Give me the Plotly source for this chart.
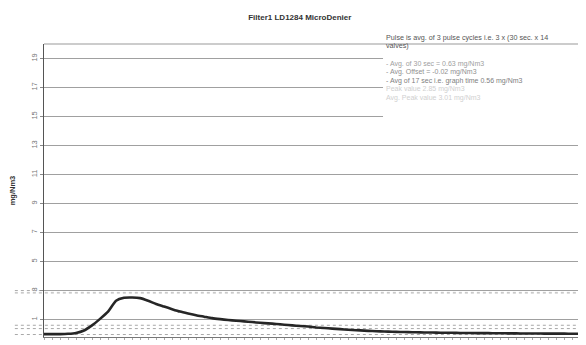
import plotly.graph_objects as go

# ---- data ----
seconds = list(range(70))
conc = [0.0, 0.0, 0.0, 0.02, 0.08, 0.25, 0.6, 1.05, 1.55, 2.3,
        2.5, 2.52, 2.48, 2.3, 2.08, 1.9, 1.72, 1.55, 1.42, 1.3,
        1.2, 1.1, 1.03, 0.97, 0.92, 0.88, 0.83, 0.78, 0.74, 0.7,
        0.65, 0.6, 0.56, 0.52, 0.46, 0.42, 0.38, 0.34, 0.3, 0.27,
        0.24, 0.21, 0.19, 0.17, 0.15, 0.14, 0.13, 0.12, 0.11, 0.10,
        0.09, 0.09, 0.08, 0.08, 0.07, 0.07, 0.06, 0.06, 0.05, 0.05,
        0.04, 0.04, 0.04, 0.03, 0.03, 0.03, 0.02, 0.02, 0.02, 0.02]
ref_levels = [3.0, 2.84, 0.61, 0.38, -0.03]
y_ticks = [1, 3, 5, 7, 9, 11, 13, 15, 17, 19]
title = "Filter1 LD1284 MicroDenier"
y_title = "mg/Nm3"
note_head = ["Pulse is avg. of 3 pulse cycles i.e. 3 x (30 sec. x 14", "valves)"]
note_lines = ["- Avg. of 30 sec = 0.63 mg/Nm3",
              "- Avg. Offset = -0.02 mg/Nm3",
              "- Avg of 17 sec i.e. graph time 0.56 mg/Nm3",
              "Peak value 2.85 mg/Nm3",
              "Avg. Peak value 3.01 mg/Nm3"]
note_colors = ["#a0a0a0", "#909090", "#808080", "#d0d0d0", "#d0d0d0"]

FONT = "Liberation Sans, Arial, sans-serif"

fig = go.Figure()
fig.add_trace(go.Scatter(x=seconds, y=conc, mode="lines",
                         line=dict(color="#262626", width=2.6, shape="spline", smoothing=0.6),
                         showlegend=False, hoverinfo="skip"))

for lv in ref_levels:
    fig.add_shape(type="line", xref="paper", yref="y", x0=-0.053, x1=1, y0=lv, y1=lv,
                  line=dict(color="#a8a8a8", width=1, dash="dot"), layer="below")

# white note box
fig.add_shape(type="rect", xref="paper", yref="paper", x0=0.6164, x1=0.9709, y0=0.724, y1=1.044,
              fillcolor="white", line=dict(width=0), layer="above")

head_y = [1.0238, 0.9932]
item_y = [0.9318, 0.9029, 0.8739, 0.8449, 0.8160]
for t, yy in zip(note_head, head_y):
    fig.add_annotation(xref="paper", yref="paper", x=0.620, y=yy, xanchor="left", yanchor="middle",
                       text=t, showarrow=False, borderpad=0,
                       font=dict(family=FONT, size=7.2, color="#555"))
for t, c, yy in zip(note_lines, note_colors, item_y):
    fig.add_annotation(xref="paper", yref="paper", x=0.620, y=yy, xanchor="left", yanchor="middle",
                       text=t, showarrow=False, borderpad=0,
                       font=dict(family=FONT, size=7, color=c))

fig.update_layout(
    width=586, height=345,
    margin=dict(l=36, r=0, t=36, b=16, autoexpand=False),
    paper_bgcolor="white", plot_bgcolor="white",
    title=dict(text=f"<b>{title}</b>", x=0.498, xanchor="center", y=0.972, yanchor="middle",
               font=dict(family=FONT, size=8, color="#333")),
    font=dict(family=FONT, size=7, color="#666"),
    xaxis=dict(range=[0, 68.7], showgrid=False, zeroline=False, showline=True,
               linecolor="#777", linewidth=1, ticks="outside", ticklen=2, tickcolor="#aaa",
               dtick=1, showticklabels=False, automargin=False),
    yaxis=dict(range=[-0.2, 20], tickvals=y_ticks, tickangle=-90, showgrid=True,
               gridcolor="#a0a0a0", gridwidth=1, zeroline=False, showline=True,
               linecolor="#555", linewidth=1, mirror=False, ticks="outside", ticklen=3,
               tickcolor="#888", tickfont=dict(size=7.5, color="#777"), automargin=False,
               title=dict(text=f"<b>{y_title}</b>", standoff=15,
                          font=dict(family=FONT, size=7.5, color="#333"))),
)
fig.add_shape(type="line", xref="paper", yref="paper", x0=0, x1=1, y0=1, y1=1,
              line=dict(color="#999", width=1))

fig.write_html("out.html")
